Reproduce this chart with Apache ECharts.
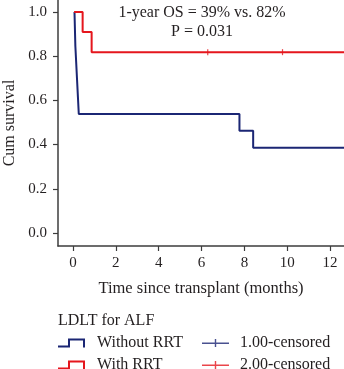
<!DOCTYPE html>
<html>
<head>
<meta charset="utf-8">
<script src="https://cdn.jsdelivr.net/npm/echarts@6/dist/echarts.min.js"></script>
<style>
  html, body { margin: 0; padding: 0; background: #fff; }
  #km { width: 344px; height: 369px; }
</style>
</head>
<body>
<div id="km"></div>
<script>
// Kaplan-Meier steps: [months, cumulative survival]
const withoutRRT = [[0.07, 1], [0.11, 0.846], [0.15, 0.769], [0.19, 0.692], [0.23, 0.615], [0.27, 0.538], [7.77, 0.462], [8.41, 0.385], [12.65, 0.385]];
const withRRT = [[0.05, 1], [0.45, 0.909], [0.87, 0.818], [12.65, 0.818]];
const censoredWithout = [];
const censoredWith = [[6.29, 0.818], [9.78, 0.818]];
const xTicks = [0, 2, 4, 6, 8, 10, 12];
const yTicks = [0, 0.2, 0.4, 0.6, 0.8, 1.0];

const FONT = 'Liberation Serif';
const BLUE = '#1b2674';
const RED = '#e5161d';
const INK = '#231f20';
const AXIS = '#3c3c3c';

const chart = echarts.init(document.getElementById('km'));

// legend glyphs: a small step line and a line with a censor tick
const stepIcon = 'path://M0,7 L10,7 L10,0 L27,0 L27,9 L25,9 L25,2 L12,2 L12,9 L0,9 Z';
const censorIcon = 'path://M0,4 L27,4 L27,5.4 L0,5.4 Z M12.8,0.5 L14.2,0.5 L14.2,8.5 L12.8,8.5 Z';

const option = {
  animation: false,
  textStyle: { fontFamily: FONT, color: INK },
  title: [
    {
      text: '1-year OS = 39% vs. 82%\nP = 0.031',
      left: 202,
      top: 3,
      padding: 0,
      textAlign: 'center',
      textStyle: { fontFamily: FONT, fontSize: 16, fontWeight: 'normal', color: INK, lineHeight: 19 },
    },
    {
      text: 'LDLT for ALF',
      left: 58,
      top: 313,
      padding: 0,
      textStyle: { fontFamily: FONT, fontSize: 16, fontWeight: 'normal', color: INK },
    },
  ],
  grid: { left: 58, right: 0, top: 0, bottom: 123, outerBoundsMode: 'none' },
  xAxis: {
    type: 'value',
    min: -0.7,
    max: 12.65,
    name: 'Time since transplant (months)',
    nameLocation: 'middle',
    nameGap: 34,
    nameTextStyle: { fontFamily: FONT, fontSize: 16.5, color: INK },
    axisLine: { onZero: false, lineStyle: { color: AXIS, width: 1.5 } },
    axisTick: { customValues: xTicks, length: 5, lineStyle: { color: AXIS, width: 1.2 } },
    axisLabel: { customValues: xTicks, margin: 10, fontFamily: FONT, fontSize: 15, color: INK },
    splitLine: { show: false },
  },
  yAxis: {
    type: 'value',
    min: -0.059,
    max: 1.054,
    name: 'Cum survival',
    nameLocation: 'middle',
    nameGap: 40,
    nameTextStyle: { fontFamily: FONT, fontSize: 16, color: INK },
    axisLine: { show: true, onZero: false, lineStyle: { color: AXIS, width: 1.5 } },
    axisTick: { show: true, customValues: yTicks, length: 5, lineStyle: { color: AXIS, width: 1.2 } },
    axisLabel: {
      customValues: yTicks,
      margin: 11,
      fontFamily: FONT,
      fontSize: 15,
      color: INK,
      formatter: (v) => v.toFixed(1),
    },
    splitLine: { show: false },
  },
  legend: [
    {
      orient: 'vertical',
      left: 58,
      top: 335,
      height: 50,
      padding: 0,
      itemWidth: 27,
      itemHeight: 9,
      itemGap: 6,
      textStyle: { fontFamily: FONT, fontSize: 16, color: INK, padding: [0, 0, 0, 7] },
      data: [
        { name: 'Without RRT', icon: stepIcon },
        { name: 'With RRT', icon: stepIcon },
      ],
    },
    {
      orient: 'vertical',
      left: 202,
      top: 335,
      height: 50,
      padding: 0,
      itemWidth: 27,
      itemHeight: 9,
      itemGap: 6,
      textStyle: { fontFamily: FONT, fontSize: 16, color: INK, padding: [0, 0, 0, 6] },
      data: [
        { name: '1.00-censored', icon: censorIcon },
        { name: '2.00-censored', icon: censorIcon },
      ],
    },
  ],
  series: [
    {
      name: 'Without RRT',
      type: 'line',
      step: 'end',
      data: withoutRRT,
      showSymbol: false,
      symbol: 'none',
      color: BLUE,
      lineStyle: { color: BLUE, width: 2 },
      z: 2,
    },
    {
      name: 'With RRT',
      type: 'line',
      step: 'end',
      data: withRRT,
      showSymbol: false,
      symbol: 'none',
      color: RED,
      lineStyle: { color: RED, width: 2 },
      z: 3,
    },
    {
      name: '1.00-censored',
      type: 'scatter',
      data: censoredWithout,
      symbol: 'rect',
      symbolSize: [1.2, 6],
      color: BLUE,
      itemStyle: { color: BLUE },
    },
    {
      name: '2.00-censored',
      type: 'scatter',
      data: censoredWith,
      symbol: 'rect',
      symbolSize: [1.2, 6],
      color: RED,
      itemStyle: { color: RED },
      z: 4,
    },
  ],
};

chart.setOption(option);
</script>
</body>
</html>
